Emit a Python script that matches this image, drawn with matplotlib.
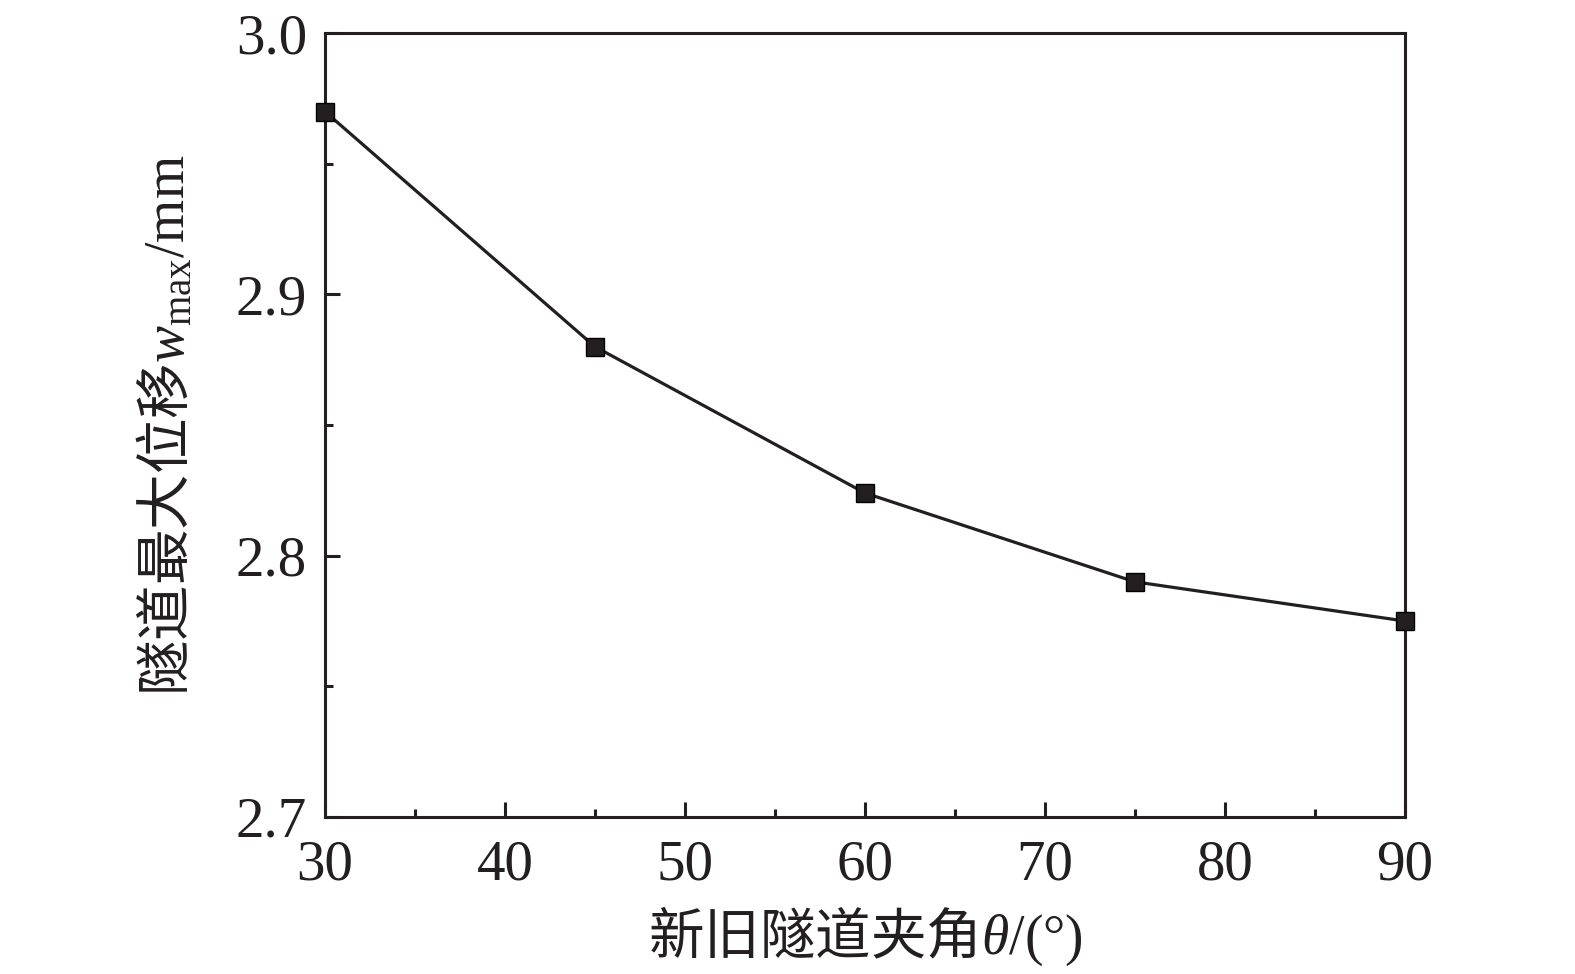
import matplotlib
matplotlib.use("Agg")
import matplotlib.pyplot as plt
from matplotlib.ticker import MultipleLocator

angles = [30, 45, 60, 75, 90]
wmax = [2.970, 2.880, 2.824, 2.790, 2.775]
xticks = [30, 40, 50, 60, 70, 80, 90]
yticks = [2.7, 2.8, 2.9, 3.0]

plt.rcParams['font.family'] = ['Liberation Serif', 'Noto Sans CJK SC']
plt.rcParams['mathtext.fontset'] = 'custom'
plt.rcParams['mathtext.rm'] = 'Liberation Serif'
plt.rcParams['mathtext.it'] = 'Liberation Serif:italic'

ink = '#231f20'
fig = plt.figure(figsize=(15.75, 9.74), dpi=100)
ax = fig.add_axes([0.2063, 0.1612, 0.6857, 0.8048])

ax.plot(angles, wmax, color=ink, lw=2.3, marker='s', ms=13,
        mfc=ink, mec='black', mew=1.0, clip_on=False, zorder=5)

ax.set_xlim(30, 90)
ax.set_ylim(2.7, 3.0)
ax.set_xticks(xticks)
ax.set_yticks(yticks)
ax.set_yticklabels([f'{v:.1f}' for v in yticks])
ax.xaxis.set_minor_locator(MultipleLocator(5))
ax.yaxis.set_minor_locator(MultipleLocator(0.05))
ax.tick_params(which='both', direction='in', top=False, right=False,
               width=2.2, color=ink, labelcolor=ink, labelsize=41)
ax.tick_params(which='major', length=11)
ax.tick_params(which='minor', length=6)
ax.tick_params(axis='x', pad=16)
ax.tick_params(axis='y', pad=13)
for s in ax.spines.values():
    s.set_linewidth(2.2)
    s.set_color(ink)

cjk = ['Noto Sans CJK SC']
ax.set_xlabel(r'新旧隧道夹角$\theta\mathrm{/(°)}$', fontsize=40, color=ink,
              family=cjk)
ax.set_ylabel(r'隧道最大位移$w_{\mathrm{max}}\mathrm{/mm}$', fontsize=40, color=ink,
              family=cjk)
ax.xaxis.set_label_coords(0.5, -0.112)
ax.yaxis.set_label_coords(-0.118, 0.5)

fig.savefig('out.png', dpi=100)
